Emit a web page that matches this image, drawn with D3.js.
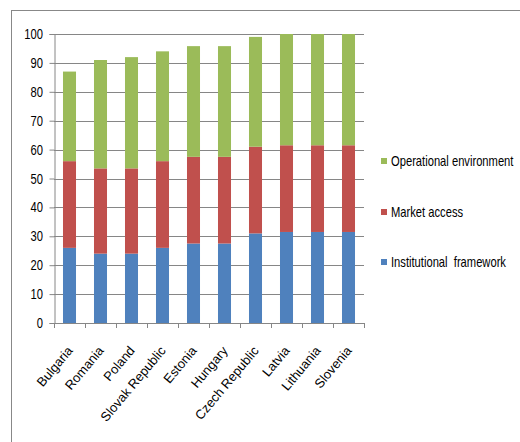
<!DOCTYPE html>
<html>
<head>
<meta charset="utf-8">
<script src="https://cdn.jsdelivr.net/npm/d3@7"></script>
<style>
  body { margin: 0; background: #fff; }
  svg text { font-family: "Liberation Sans", Arial, sans-serif; font-size: 14px; fill: #000; }
</style>
</head>
<body>
<div id="chart"></div>
<script>
// Countries along the x axis
const countries = ["Bulgaria", "Romania", "Poland", "Slovak Republic", "Estonia",
    "Hungary", "Czech Republic", "Latvia", "Lithuania", "Slovenia"];

// Stacked series values (bottom to top)
const institutional = [26, 24, 24, 26, 27.5, 27.5, 31, 31.5, 31.5, 31.5];
const market = [30, 29.5, 29.5, 30, 30, 30, 30, 30, 30, 30];
const operational = [31, 37.5, 38.5, 38, 38.3, 38.3, 38, 38.5, 38.5, 38.5];

const seriesNames = ["Institutional  framework", "Market access", "Operational environment"];
const seriesColors = ["#4F81BD", "#C0504D", "#9BBB59"];
const yTicks = [0, 10, 20, 30, 40, 50, 60, 70, 80, 90, 100];

const width = 520, height = 442;
const margin = { top: 34, left: 54, plotRight: 364, bottom: 323 };
const squeeze = 0.8; // the original text looks horizontally condensed

const svg = d3.select("#chart").append("svg")
    .attr("width", width)
    .attr("height", height);

// outer frame
svg.append("rect")
    .attr("x", 11.5).attr("y", 10.5)
    .attr("width", 540).attr("height", 460)
    .attr("fill", "none")
    .attr("stroke", "#888");

const x = d3.scaleBand()
    .domain(countries)
    .range([margin.left, margin.plotRight])
    .paddingInner(0.58)
    .paddingOuter(0.29);

const y = d3.scaleLinear()
    .domain([0, 100])
    .range([margin.bottom, margin.top]);

// gridlines
svg.append("g")
    .selectAll("line")
    .data(yTicks.filter(d => d > 0))
    .join("line")
    .attr("x1", margin.left)
    .attr("x2", margin.plotRight)
    .attr("y1", d => Math.round(y(d)) + 0.5)
    .attr("y2", d => Math.round(y(d)) + 0.5)
    .attr("stroke", "#868686")
    .attr("stroke-width", 1);

// build stacked table
const table = countries.map((c, i) => ({
    country: c,
    s0: institutional[i],
    s1: market[i],
    s2: operational[i]
}));
const stack = d3.stack().keys(["s0", "s1", "s2"]);
const layers = stack(table);

svg.append("g")
    .selectAll("g")
    .data(layers)
    .join("g")
    .attr("fill", (d, i) => seriesColors[i])
    .selectAll("rect")
    .data(d => d)
    .join("rect")
    .attr("x", d => x(d.data.country))
    .attr("width", x.bandwidth())
    .attr("y", d => y(d[1]))
    .attr("height", d => y(d[0]) - y(d[1]));

// y axis (line + ticks from d3, labels drawn by hand so they can be squeezed)
const yAxis = svg.append("g")
    .attr("transform", `translate(${margin.left + 0.5},0)`)
    .call(d3.axisLeft(y).tickValues(yTicks).tickSize(5).tickFormat(""));
yAxis.selectAll("path, line").attr("stroke", "#868686");

svg.append("g")
    .selectAll("text")
    .data(yTicks)
    .join("text")
    .attr("transform", d => `translate(${margin.left - 11},${y(d) + 5}) scale(${squeeze},1)`)
    .attr("text-anchor", "end")
    .text(d => d);

// x axis with ticks at band boundaries
const xAxis = svg.append("g");
xAxis.append("line")
    .attr("x1", margin.left).attr("x2", margin.plotRight)
    .attr("y1", margin.bottom + 0.5).attr("y2", margin.bottom + 0.5)
    .attr("stroke", "#868686");
const step = x.step();
xAxis.selectAll(".tk")
    .data(d3.range(countries.length + 1))
    .join("line")
    .attr("class", "tk")
    .attr("x1", i => Math.round(margin.left + i * step) + 0.5)
    .attr("x2", i => Math.round(margin.left + i * step) + 0.5)
    .attr("y1", margin.bottom)
    .attr("y2", margin.bottom + 5)
    .attr("stroke", "#868686");

xAxis.selectAll("text")
    .data(countries)
    .join("text")
    .attr("transform", d => `translate(${x(d) + x.bandwidth() / 2 + 4},${margin.bottom + 28}) rotate(-50)`)
    .attr("text-anchor", "end")
    .style("font-size", "13px")
    .text(d => d);

// legend
const legendY = [262, 212, 161];
const legend = svg.append("g");
seriesNames.forEach((name, i) => {
    legend.append("rect")
        .attr("x", 381).attr("y", legendY[i] - 3)
        .attr("width", 6).attr("height", 6)
        .attr("fill", seriesColors[i]);
    legend.append("text")
        .attr("transform", `translate(391,${legendY[i] + 5}) scale(${squeeze},1)`)
        .style("white-space", "pre")
        .text(name);
});
</script>
</body>
</html>
